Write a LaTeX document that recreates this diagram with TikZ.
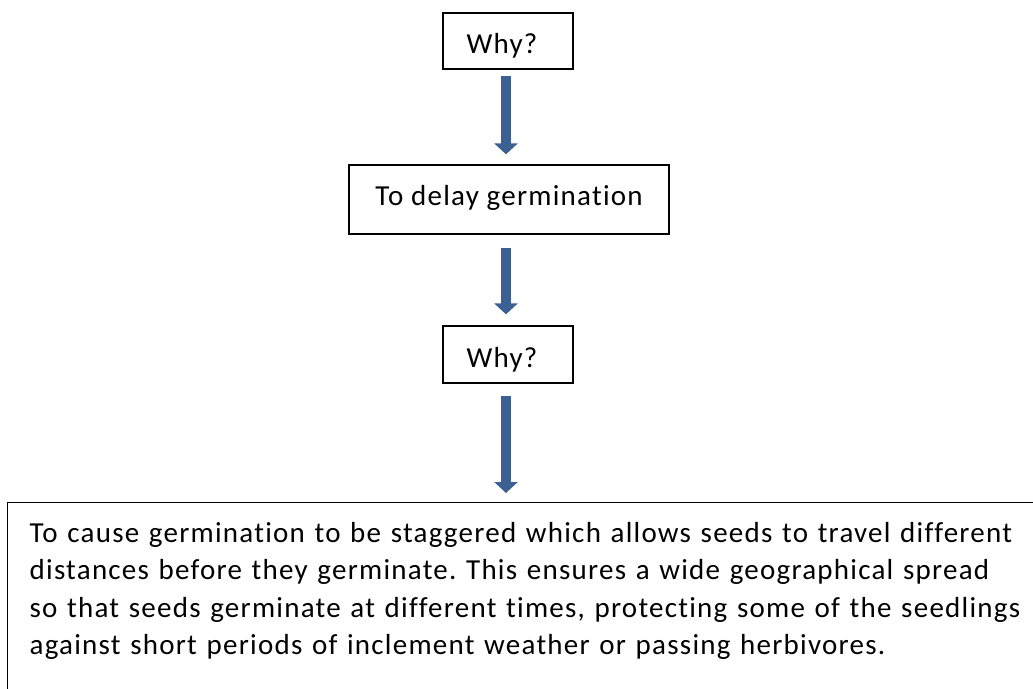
\documentclass[tikz,border=0pt]{standalone}
\usepackage{fontspec}
\setmainfont[LetterSpace=4.3,Ligatures=NoCommon]{Carlito}
\usetikzlibrary{arrows.meta}
\definecolor{arrowblue}{RGB}{60,96,146}
\tikzset{
  box/.style={draw=black, line width=1.3pt, inner sep=0pt, font=\fontsize{29}{34}\selectfont},
  flowarrow/.style={draw=arrowblue, line width=10pt, -{Triangle[width=23pt,length=11pt]}},
}
\begin{document}
\frenchspacing
\begin{tikzpicture}[x=1pt,y=-1pt]
\useasboundingbox (0,0) rectangle (1033,688);
\node[box, minimum width=130pt, minimum height=56pt, text height=26pt, text depth=2pt] (why1) at (508,41) {Why?\hspace*{12pt}};
\node[box, minimum width=320pt, minimum height=69pt, text height=18pt, text depth=7pt] (delay) at (509,199.5) {To delay germination};
\node[box, minimum width=130pt, minimum height=57pt, text height=27pt, text depth=2pt] (why2) at (508,354.5) {Why?\hspace*{12pt}};
\node[box, anchor=north west, align=left, text width=1010pt, inner xsep=22pt, inner ysep=11pt,
      font=\fontsize{29}{37.3}\selectfont] (answer) at (7,502)
  {\rule{0pt}{29pt}To cause germination to be staggered which allows seeds to travel different\\
   distances before they germinate. This ensures a wide geographical spread\\
   so that seeds germinate at different times, protecting some of the seedlings\\
   against short periods of inclement weather or passing herbivores.\rule[-40pt]{0pt}{40pt}};
\draw[flowarrow, shorten <=6pt, shorten >=10pt] ([xshift=-2pt]why1.south) -- ([xshift=-2pt]why1.south |- delay.north);
\draw[flowarrow, shorten <=13pt, shorten >=11pt] ([xshift=-2pt]why1.south |- delay.south) -- ([xshift=-2pt]why2.north);
\draw[flowarrow, shorten <=12pt, shorten >=9pt] ([xshift=-2pt]why2.south) -- ([xshift=-2pt]why2.south |- answer.north);
\end{tikzpicture}
\end{document}
